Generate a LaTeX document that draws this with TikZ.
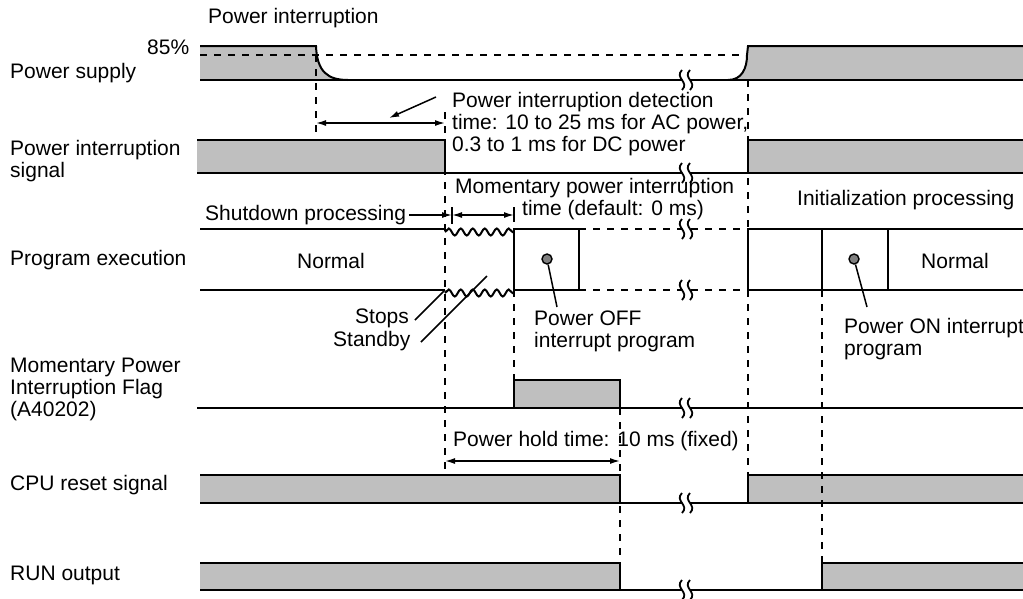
\documentclass[tikz,border=0pt]{standalone}
\usepackage{fontspec}
\setmainfont{Liberation Sans}
\usetikzlibrary{arrows.meta, decorations.pathmorphing}

\tikzset{
    sig/.style={line width=2pt},
    hi/.style={fill=black!25},
    dsh/.style={line width=1.6pt, dash pattern=on 7pt off 7pt},
    dimarr/.style={line width=1.5pt, {Latex[length=10pt,width=6pt]}-{Latex[length=10pt,width=6pt]}},
    tiparr/.style={line width=1.5pt, -{Latex[length=10pt,width=6pt]}},
    callout/.style={line width=1.5pt},
    wave/.style={sig, decorate, decoration={snake, segment length=12pt, amplitude=3.5pt}},
    dot/.style={circle, draw, line width=1.4pt, fill=black!50, inner sep=0pt, minimum size=10pt},
    lbl/.style={anchor=west, align=left, inner sep=0pt},
    brk/.pic={
        \fill[white] (-4,-10) .. controls (-12,-2) and (4,2) .. (-4,10) -- (4,10) .. controls (12,2) and (-4,-2) .. (4,-10) -- cycle;
        \draw[line width=1.8pt] (-4,-10) .. controls (-12,-2) and (4,2) .. (-4,10);
        \draw[line width=1.8pt] (4,-10) .. controls (-4,-2) and (12,2) .. (4,10);
    }
}

\begin{document}
\begin{tikzpicture}[x=1pt, y=-1pt, font=\fontsize{21}{22}\selectfont]
    \useasboundingbox (0,0) rectangle (1023,598);

    \fill[hi] (200,46) -- (316,46) .. controls (317,72) and (328,80) .. (348,80) -- (200,80) -- cycle;
    \fill[hi] (728,80) .. controls (742,80) and (747,68) .. (747,55) -- (748,46) -- (1023,46) -- (1023,80) -- cycle;
    \fill[hi] (197,140) rectangle (445,173);
    \fill[hi] (748,140) rectangle (1023,173);
    \fill[hi] (514,380) rectangle (620,408);
    \fill[hi] (200,475) rectangle (620,503);
    \fill[hi] (748,475) rectangle (1023,503);
    \fill[hi] (200,563) rectangle (620,590);
    \fill[hi] (822,563) rectangle (1023,590);

    \draw[dsh] (200,55) -- (748,55);
    \draw[dsh] (316,55) -- (316,140);
    \draw[dsh] (445,112) -- (445,475);
    \draw[dsh] (514,290) -- (514,380);
    \draw[dsh] (620,408) -- (620,563);
    \draw[dsh] (748,80) -- (748,475);
    \draw[dsh] (822,290) -- (822,563);
    \draw[dsh] (579,229) -- (748,229);
    \draw[dsh] (579,290) -- (748,290);

    \draw[sig] (200,46) -- (316,46) .. controls (317,72) and (328,80) .. (348,80);
    \draw[sig] (200,80) -- (1023,80);
    \draw[sig] (728,80) .. controls (742,80) and (747,68) .. (747,55) -- (748,46) -- (1023,46);

    \draw[sig] (197,140) -- (445,140) -- (445,173);
    \draw[sig] (197,173) -- (1023,173);
    \draw[sig] (748,173) -- (748,140) -- (1023,140);

    \draw[sig] (200,229) -- (445,229);
    \draw[sig] (200,290) -- (445,290);
    \draw[wave] (445,232) -- (514,232);
    \draw[wave] (445,293) -- (514,293);
    \draw[sig] (514,229) rectangle (579,290);
    \draw[sig] (1023,229) -- (748,229) -- (748,290) -- (1023,290);
    \draw[sig] (822,229) -- (822,290);
    \draw[sig] (888,229) -- (888,290);

    \draw[sig] (197,408) -- (1023,408);
    \draw[sig] (514,408) -- (514,380) -- (620,380) -- (620,408);

    \draw[sig] (200,475) -- (620,475) -- (620,503);
    \draw[sig] (200,503) -- (1023,503);
    \draw[sig] (748,503) -- (748,475) -- (1023,475);

    \draw[sig] (200,563) -- (620,563) -- (620,590);
    \draw[sig] (200,590) -- (1023,590);
    \draw[sig] (822,590) -- (822,563) -- (1023,563);

    \foreach \y in {80,173,229,290,408,503,590}
        \pic at (686,\y) {brk};

    \node[lbl] (pint) at (208,18) {Power interruption};
    \node[lbl] (pct) at (147,47) {85\%};
    \node[lbl] (psup) at (10,73) {Power supply};
    \node[lbl] (pisig) at (10,161) {Power interruption\\signal};
    \node[lbl] (pexe) at (10,260) {Program execution};
    \node[lbl] (mflag) at (10,389) {Momentary Power\\Interruption Flag\\(A40202)};
    \node[lbl] (cpu) at (10,485) {CPU reset signal};
    \node[lbl] (run) at (10,575) {RUN output};

    \node[lbl] (det) at (452,124) {Power interruption detection\\time: 10 to 25 ms for AC power,\\0.3 to 1 ms for DC power};
    \node[lbl] (mpi) at (455,188) {Momentary power interruption};
    \node[lbl] (mdef) at (522,210) {time (default: 0 ms)};
    \node[lbl] (init) at (797,200) {Initialization processing};
    \node[lbl] (shut) at (205,215) {Shutdown processing};
    \node (norm1) at (331,261) {Normal};
    \node (norm2) at (955,261) {Normal};
    \node[lbl] (stops) at (355,318) {Stops};
    \node[lbl] (stby) at (333,341) {Standby};
    \node[lbl] (offlbl) at (534,331) {Power OFF\\interrupt program};
    \node[lbl] (onlbl) at (844,339) {Power ON interrupt\\program};
    \node[lbl] (hold) at (453,441) {Power hold time: 10 ms (fixed)};

    \node[dot] (offdot) at (547,259) {};
    \node[dot] (ondot) at (854,259) {};
    \coordinate (offtip) at (557,307);
    \coordinate (ontip) at (867,307);
    \draw[callout] (offdot) -- (offtip);
    \draw[callout] (ondot) -- (ontip);

    \coordinate (stopsA) at (415,320);
    \coordinate (stopsB) at (445,290);
    \coordinate (stbyA) at (421,342);
    \coordinate (stbyB) at (487,276);
    \draw[callout] (stopsA) -- (stopsB);
    \draw[callout] (stbyA) -- (stbyB);

    \coordinate (detL) at (316,123);
    \coordinate (detR) at (445,123);
    \coordinate (detA) at (436,97);
    \coordinate (detB) at (389,118);
    \draw[dimarr] (detL) -- (detR);
    \draw[tiparr] (detA) -- (detB);

    \coordinate (shutL) at (452,215);
    \coordinate (shutR) at (514,215);
    \draw[tiparr] (shut.east) ++(3,0) -- (shutL);
    \draw[callout] (452,207) -- (452,224);
    \draw[callout] (514,207) -- (514,222);
    \draw[dimarr] (shutL) -- (shutR);

    \coordinate (holdL) at (445,461);
    \coordinate (holdR) at (620,461);
    \draw[dimarr] (holdL) -- (holdR);
\end{tikzpicture}
\end{document}
